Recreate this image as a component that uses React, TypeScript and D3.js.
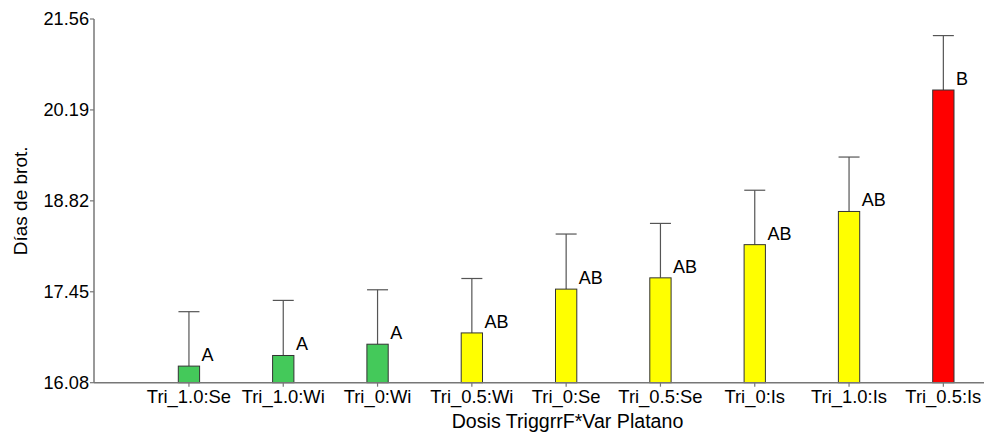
import React from "react";
import * as d3 from "d3";

const categories = [
  "Tri_1.0:Se",
  "Tri_1.0:Wi",
  "Tri_0:Wi",
  "Tri_0.5:Wi",
  "Tri_0:Se",
  "Tri_0.5:Se",
  "Tri_0:Is",
  "Tri_1.0:Is",
  "Tri_0.5:Is",
];
const means = [16.33, 16.49, 16.66, 16.83, 17.49, 17.66, 18.16, 18.66, 20.49];
const upper = [17.15, 17.32, 17.48, 17.65, 18.32, 18.48, 18.98, 19.48, 21.31];
const letters = ["A", "A", "A", "AB", "AB", "AB", "AB", "AB", "B"];
const fills = [
  "#44c95a", "#44c95a", "#44c95a",
  "#ffff00", "#ffff00", "#ffff00", "#ffff00", "#ffff00",
  "#ff0000",
];
const yTicks = [16.08, 17.45, 18.82, 20.19, 21.56];

const W = 984;
const H = 434;
const left = 94;
const top = 19;
const bottom = 382.7;
const font = "'Liberation Sans', Arial, sans-serif";

export default function App() {
  const y = d3.scaleLinear().domain([16.08, 21.56]).range([bottom, top]);
  const x = d3
    .scaleBand<string>()
    .domain(categories)
    .range([141.8, 141.8 + 94.3 * categories.length])
    .padding(0);
  const barW = 21.3;
  const capW = 21;

  return (
    <svg
      width={W}
      height={H}
      style={{ position: "absolute", left: 0, top: 0, background: "#fff" }}
      fontFamily={font}
    >
      {/* bars with error whiskers and group letters */}
      {categories.map((c, i) => {
        const cx = x(c)! + x.bandwidth() / 2;
        const yt = y(means[i]);
        const ye = y(upper[i]);
        return (
          <g key={c}>
            <line x1={cx} x2={cx} y1={yt} y2={ye} stroke="#555" strokeWidth={1.2} />
            <line x1={cx - capW / 2} x2={cx + capW / 2} y1={ye} y2={ye} stroke="#555" strokeWidth={1.2} />
            <rect
              x={cx - barW / 2}
              y={yt}
              width={barW}
              height={bottom - yt}
              fill={fills[i]}
              stroke="#333"
              strokeWidth={1}
            />
            <text x={cx + barW / 2 + 2} y={yt - 5} fontSize={18} fill="#000">
              {letters[i]}
            </text>
            <line x1={cx} x2={cx} y1={bottom} y2={bottom + 4} stroke="#777" strokeWidth={1.2} />
            <text x={cx} y={403} fontSize={18.4} textAnchor="middle" fill="#000">
              {c}
            </text>
          </g>
        );
      })}

      {/* axes */}
      <line x1={left} x2={W} y1={bottom} y2={bottom} stroke="#777" strokeWidth={1.5} />
      <line x1={left} x2={left} y1={top} y2={bottom} stroke="#777" strokeWidth={1.5} />
      {yTicks.map((t) => (
        <g key={t}>
          <line x1={left - 4} x2={left} y1={y(t)} y2={y(t)} stroke="#777" strokeWidth={1.2} />
          <text x={left - 5} y={y(t) + 6.3} fontSize={18.2} textAnchor="end" fill="#000">
            {t.toFixed(2)}
          </text>
        </g>
      ))}

      {/* axis titles */}
      <text
        transform={`translate(26.5,${(top + bottom) / 2}) rotate(-90)`}
        fontSize={19}
        textAnchor="middle"
        fill="#000"
      >
        Días de brot.
      </text>
      <text x={567.5} y={428.3} fontSize={19.6} textAnchor="middle" fill="#000">
        Dosis TriggrrF*Var Platano
      </text>
    </svg>
  );
}
